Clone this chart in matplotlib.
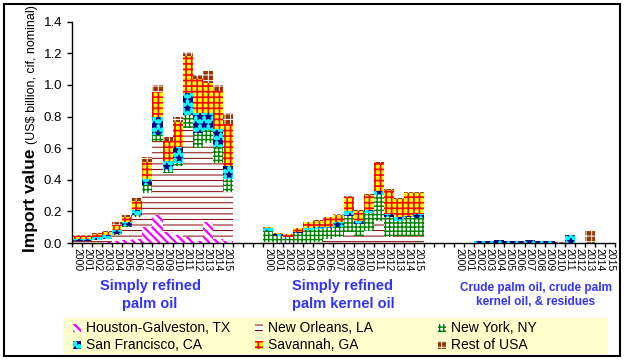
import numpy as np
import matplotlib.pyplot as plt
from matplotlib.patches import Rectangle

years = [str(y) for y in range(2000, 2016)]
ports = ['Houston-Galveston, TX', 'New Orleans, LA', 'New York, NY',
         'San Francisco, CA', 'Savannah, GA', 'Rest of USA']
products = ['Simply refined\npalm oil', 'Simply refined\npalm kernel oil',
            'Crude palm oil, crude palm\nkernel oil, & residues']

# simply refined palm oil (US$ billion)
oil_houston  = [.002, .002, .003, .005, .012, .018, .028, .099, .177, .072, .050, .036, .015, .135, .025, .015]
oil_orleans  = [.010, .010, .015, .020, .040, .085, .137, .217, .467, .371, .440, .692, .585, .498, .482, .305]
oil_newyork  = [.002, .002, .002, .003, .005, .007, .015, .054, .042, .017, .017, .079, .097, .085, .101, .085]
oil_sanfran  = [.012, .010, .015, .020, .025, .020, .027, .034, .114, .057, .103, .143, .127, .102, .114, .085]
oil_savannah = [.020, .020, .022, .022, .030, .035, .057, .106, .155, .127, .155, .230, .211, .193, .238, .260]
oil_rest     = [.007, .008, .008, .008, .020, .010, .021, .034, .042, .026, .031, .027, .025, .077, .040, .070]

# simply refined palm kernel oil
kern_houston  = [0] * 16
kern_orleans  = [.005, .003, .002, .003, .003, .005, .025, .036, .068, .046, .078, .141, .040, .046, .046, .046]
kern_newyork  = [.073, .043, .038, .058, .079, .084, .070, .067, .105, .074, .110, .165, .122, .095, .116, .112]
kern_sanfran  = [.017, .011, .000, .006, .013, .010, .008, .028, .032, .021, .021, .025, .022, .026, .011, .026]
kern_savannah = [.008, .006, .017, .026, .036, .042, .059, .048, .088, .064, .097, .173, .154, .111, .143, .132]
kern_rest     = [.000, .000, .000, .000, .004, .007, .000, .004, .007, .004, .004, .006, .004, .007, .005, .005]

# crude palm oil, crude palm kernel oil & residues
crude_houston  = [0] * 16
crude_orleans  = [0] * 16
crude_newyork  = [0] * 16
crude_sanfran  = [0, 0, .015, .012, .018, .013, .012, .016, .013, .015, 0, .050, 0, 0, 0, 0]
crude_savannah = [0] * 16
crude_rest     = [0, 0, 0, 0, 0, 0, 0, 0, 0, 0, .006, 0, 0, .076, 0, 0]

data = [[oil_houston, oil_orleans, oil_newyork, oil_sanfran, oil_savannah, oil_rest],
        [kern_houston, kern_orleans, kern_newyork, kern_sanfran, kern_savannah, kern_rest],
        [crude_houston, crude_orleans, crude_newyork, crude_sanfran, crude_savannah, crude_rest]]

# face colour, hatch colour, hatch, hatch linewidth
styles = [('white', '#FF00FF', '\\\\\\\\', 1.6),
          ('white', '#800000', '---', 0.7),
          ('white', '#008000', '++++', 1.0),
          ('#00FFFF', '#000080', '**', 1.0),
          ('#FFFF00', '#FF0000', '+++', 1.2),
          ('#993300', 'white', '+++', 0.7)]

plt.rcParams['font.family'] = ['Liberation Sans', 'DejaVu Sans']

W, H = 628, 362
fig = plt.figure(figsize=(W / 100, H / 100), dpi=100)
ax = fig.add_axes([72 / W, 1 - 243 / H, (615 - 72) / W, (243 - 21.7) / H])

starts = [0, 19, 38]
for g in range(3):
    x = starts[g] + np.arange(16)
    bottom = np.zeros(16)
    for p in range(6):
        vals = np.array(data[g][p], dtype=float)
        fc, hc, hatch, hlw = styles[p]
        with plt.rc_context({'hatch.linewidth': hlw}):
            ax.bar(x, vals, width=1.0, bottom=bottom, facecolor=fc, edgecolor=hc,
                   hatch=hatch, linewidth=0)
        bottom += vals

ax.set_xlim(-0.5, 53.5)
ax.set_ylim(0, 1.4)
ax.set_yticks(np.arange(0, 1.41, 0.2))
ax.set_yticklabels(['%.1f' % v for v in np.arange(0, 1.41, 0.2)], fontsize=9.5)
ax.tick_params(axis='y', length=3.6, width=1, pad=3.6)

ax.set_xticks(np.arange(-0.5, 54, 1))
ax.set_xticklabels([])
ax.tick_params(axis='x', which='major', length=3, width=1)
centers = np.concatenate([s + np.arange(16) for s in starts])
ax.set_xticks(centers, minor=True)
ax.set_xticklabels(years * 3, minor=True, rotation=270, fontsize=7.5)
ax.tick_params(axis='x', which='minor', length=0, pad=3.5)

for side in ['top', 'right']:
    ax.spines[side].set_visible(False)
for side in ['left', 'bottom']:
    ax.spines[side].set_linewidth(1)

# y label: bold part + small part
t1 = fig.text(35 / W, 1 - 252 / H, 'Import value', rotation=90, rotation_mode='anchor',
              ha='left', va='baseline', fontsize=12.5, weight='bold')
fig.canvas.draw()
bb = t1.get_window_extent(fig.canvas.get_renderer())
fig.text(35 / W, (bb.y1 + 4) / H, '(US$ billion, cif, nominal)', rotation=90,
         rotation_mode='anchor', ha='left', va='baseline', fontsize=9)

# product labels under each group
fig.text(150 / W, 1 - 295 / H, products[0], ha='center', va='center', color='#3333FF',
         fontsize=10.5, weight='bold', linespacing=1.3)
fig.text(343 / W, 1 - 295 / H, products[1], ha='center', va='center', color='#3333FF',
         fontsize=10.5, weight='bold', linespacing=1.3)
fig.text(536 / W, 1 - 295 / H, products[2], ha='center', va='center', color='#3333FF',
         fontsize=8.5, weight='bold', linespacing=1.3)

# legend box
fig.patches.append(Rectangle((63 / W, 1 - 354 / H), (608 - 63) / W, 36 / H,
                             transform=fig.transFigure, facecolor='#FFFFCC',
                             edgecolor='none', zorder=0))
col_x = [73, 255, 438]
row_y = [328, 345]
for i, name in enumerate(ports):
    cx, ry = col_x[i % 3], row_y[i // 3]
    fc, hc, hatch, hlw = styles[i]
    with plt.rc_context({'hatch.linewidth': hlw}):
        fig.patches.append(Rectangle((cx / W, 1 - (ry + 4) / H), 8 / W, 8 / H,
                                     transform=fig.transFigure, facecolor=fc,
                                     edgecolor=hc, hatch=hatch, linewidth=0, zorder=1))
    fig.text((cx + 13) / W, 1 - ry / H, name, ha='left', va='center', fontsize=10)

# chart border
fig.patches.append(Rectangle((4 / W, 1 - 356 / H), 616 / W, 352 / H,
                             transform=fig.transFigure, fill=False,
                             edgecolor='black', linewidth=1.5))

fig.savefig('out.png', dpi=100)
